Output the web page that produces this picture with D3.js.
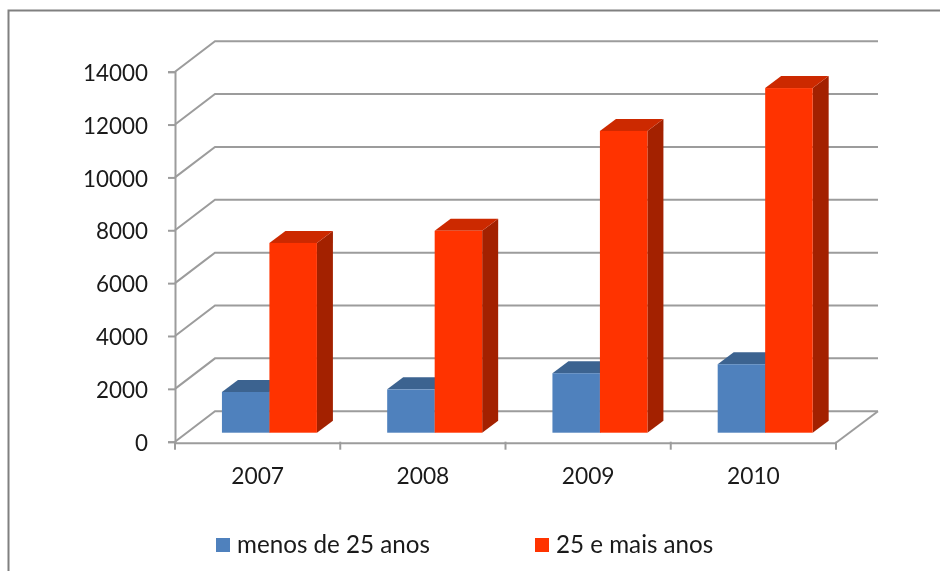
<!DOCTYPE html>
<html>
<head>
<meta charset="utf-8">
<style>
  html, body { margin: 0; padding: 0; background: #fff; }
  svg { display: block; filter: blur(0.45px); }
  text { font-family: Lato, sans-serif; fill: #1a1a1a; }
</style>
<script src="https://cdn.jsdelivr.net/npm/d3@7/dist/d3.min.js"></script>
</head>
<body>
<div id="chart"></div>
<script>
var years = ["2007", "2008", "2009", "2010"];
var seriesNames = ["menos de 25 anos", "25 e mais anos"];
var under25 = [1540, 1640, 2250, 2590];
var over25 = [7180, 7640, 11420, 13040];
var yTicks = [0, 2000, 4000, 6000, 8000, 10000, 12000, 14000];

var width = 940, height = 571;
var gridColor = "#9c9c9c";

var svg = d3.select("#chart").append("svg")
    .attr("width", width)
    .attr("height", height);

// chart frame, open to the right and the bottom of the picture
svg.append("path")
    .attr("d", "M8.5," + height + "V10.5H" + width)
    .attr("fill", "none")
    .attr("stroke", "#808080")
    .attr("stroke-width", 2);

var xScale = d3.scaleBand().domain(years).range([175, 836]);
var yScale = d3.scaleLinear().domain([0, 14000]).range([441.7, 71.7]);
var barScale = d3.scaleBand().domain(seriesNames)
    .range([0, xScale.bandwidth()])
    .paddingInner(0)
    .paddingOuter(0.74);

// depth of the 3d box and of the bars standing in the middle of it
var wall = {dx: 40, dy: -30.5};
var barShift = {dx: 11.8, dy: -9};
var barDepth = {dx: 16, dy: -12};

var line = d3.line();

// side wall and back wall grid lines
svg.append("g").selectAll("path")
    .data(yTicks)
    .enter().append("path")
    .attr("d", function(d) {
      var y = yScale(d);
      return line([[175, y], [175 + wall.dx, y + wall.dy], [878, y + wall.dy]]);
    })
    .attr("fill", "none")
    .attr("stroke", gridColor)
    .attr("stroke-width", 2);

// right edge of the floor
svg.append("path")
    .attr("d", line([[836, yScale(0) + 1], [878, yScale(0) + wall.dy]]))
    .attr("fill", "none")
    .attr("stroke", gridColor)
    .attr("stroke-width", 2);

// bars, drawn series by series so the red box hides the blue side
var seriesList = [
  {name: seriesNames[0], values: under25, front: "#4f81bd", top: "#3c6390", side: "#33557c"},
  {name: seriesNames[1], values: over25, front: "#ff3300", top: "#cc2900", side: "#a32100"}
];

seriesList.forEach(function(s) {
  var g = svg.append("g");
  s.values.forEach(function(value, i) {
    var x0 = xScale(years[i]) + barScale(s.name) + barShift.dx;
    var x1 = x0 + barScale.bandwidth();
    var y0 = yScale(0) + barShift.dy;
    var y1 = yScale(value) + barShift.dy;
    var dx = barDepth.dx, dy = barDepth.dy;

    g.append("path")
      .attr("d", line([[x1, y1], [x1 + dx, y1 + dy], [x1 + dx, y0 + dy], [x1, y0]]) + "Z")
      .attr("fill", s.side);
    g.append("path")
      .attr("d", line([[x0, y1], [x0 + dx, y1 + dy], [x1 + dx, y1 + dy], [x1, y1]]) + "Z")
      .attr("fill", s.top);
    g.append("rect")
      .attr("x", x0)
      .attr("y", y1)
      .attr("width", x1 - x0)
      .attr("height", y0 - y1)
      .attr("fill", s.front);
  });
});

// Add Y axis
var yAxis = svg.append("g")
    .attr("transform", "translate(175,0)")
    .call(d3.axisLeft(yScale).tickValues(yTicks).tickFormat(d3.format("d")).tickSize(7).tickPadding(20));

// Add X axis
var xAxis = svg.append("g")
    .attr("transform", "translate(0," + (yScale(0) + 1) + ")")
    .call(d3.axisBottom(xScale).tickSize(0).tickPadding(25));

// axisBottom puts its ticks mid band, the chart has them between the bands
svg.append("g").selectAll("line")
    .data(d3.range(years.length + 1))
    .enter().append("line")
    .attr("x1", function(d) { return 175 + d * xScale.step(); })
    .attr("x2", function(d) { return 175 + d * xScale.step(); })
    .attr("y1", yScale(0))
    .attr("y2", yScale(0) + 8)
    .attr("stroke", gridColor)
    .attr("stroke-width", 2);

[yAxis, xAxis].forEach(function(axis) {
  axis.selectAll("path, line").attr("stroke", gridColor).attr("stroke-width", 2);
  axis.selectAll("text").style("font-family", "Lato, sans-serif").attr("fill", "#1a1a1a");
});
yAxis.selectAll("text").style("font-size", "22.4px").attr("transform", "translate(0,1.5)");
xAxis.selectAll("text").style("font-size", "22.8px").attr("transform", "translate(0,0.5)");

// legend
var legendX = [216, 535];
seriesList.forEach(function(s, i) {
  svg.append("rect")
    .attr("x", legendX[i])
    .attr("y", 538)
    .attr("width", 14)
    .attr("height", 14)
    .attr("fill", s.front);
  svg.append("text")
    .attr("x", legendX[i] + 21)
    .attr("y", 553)
    .style("font-size", "24.2px")
    .text(s.name);
});
</script>
</body>
</html>
